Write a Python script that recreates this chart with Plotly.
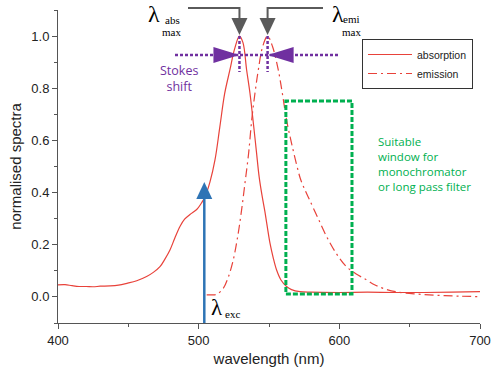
import plotly.graph_objects as go
import numpy as np

# ---------------- data ----------------
abs_wl = [400, 405, 410, 415, 420, 425, 430, 437, 443, 449, 456, 463, 468, 472.5, 476,
          479.6, 483, 486.7, 490, 493.8, 498.6, 502, 504.5, 508, 511.6, 515, 518.5, 522.2,
          525.5, 529, 531.5, 534.1, 536.5, 539, 541, 543, 545, 547, 550.7, 553, 555.4,
          558.5, 562.5, 566, 572, 580, 600, 620, 640, 660, 680, 700]
abs_val = [0.046, 0.047, 0.043, 0.040, 0.040, 0.039, 0.041, 0.042, 0.045, 0.052, 0.062,
           0.078, 0.095, 0.116, 0.145, 0.18, 0.225, 0.27, 0.298, 0.316, 0.335, 0.36, 0.384,
           0.44, 0.525, 0.65, 0.78, 0.87, 0.95, 1.0, 0.975, 0.87, 0.78, 0.66, 0.56, 0.46,
           0.39, 0.33, 0.206, 0.15, 0.103, 0.065, 0.04, 0.028, 0.02, 0.018, 0.017, 0.018,
           0.017, 0.017, 0.018, 0.02]

emi_wl = [505.7, 509, 512.8, 517.5, 521, 524.6, 528, 530.5, 533, 535.5, 537.7, 540, 542.4,
          545.5, 549, 552.5, 556.6, 559.5, 562.5, 566, 569.5, 572.5, 576, 579, 585, 591,
          598, 605, 612, 619.4, 625, 631, 640, 655, 670, 685, 700]
emi_val = [0.008, 0.008, 0.01, 0.033, 0.075, 0.142, 0.24, 0.333, 0.44, 0.55, 0.678, 0.78,
           0.87, 0.96, 1.0, 0.96, 0.87, 0.78, 0.678, 0.59, 0.51, 0.45, 0.405, 0.37, 0.3,
           0.231, 0.165, 0.116, 0.088, 0.065, 0.047, 0.033, 0.02, 0.011, 0.006, 0.003, 0.001]

exc_wl = 504          # excitation wavelength (nm)
window_wl = [562, 609]  # suitable detection window
window_val = [0.0115, 0.751]

x_ticks = [400, 500, 600, 700]
y_ticks = [0.0, 0.2, 0.4, 0.6, 0.8, 1.0]

# ---------------- layout geometry ----------------
W, H = 492, 373
ML, MR, MT, MB = 58, 12, 10, 50
XR = [400, 700]
YR = [-0.1, 1.1]
PW = W - ML - MR
PH = H - MT - MB


def px2p(px):
    return (px - ML) / PW


def py2p(py):
    return (H - MB - py) / PH


def dx2p(wl):
    return (wl - XR[0]) / (XR[1] - XR[0])


def ppx(n):   # pixels -> paper x fraction
    return n / PW


def ppy(n):
    return n / PH


RED = "#E8423A"
GRAY = "#5A5A5A"
PURPLE = "#7030A0"
BLUE = "#2E74B5"
GREEN = "#00B050"

abs_peak = abs_wl[int(np.argmax(abs_val))]
emi_peak = emi_wl[int(np.argmax(emi_val))]

fig = go.Figure()
fig.add_trace(go.Scatter(x=abs_wl, y=abs_val, mode="lines", name="absorption",
                         line=dict(color=RED, width=1.2), line_shape="spline"))
fig.add_trace(go.Scatter(x=emi_wl, y=emi_val, mode="lines", name="emission",
                         line=dict(color=RED, width=1.2, dash="9px,4px,2px,4px"),
                         line_shape="spline"))

shapes = []


def path(points, **kw):
    d = "M " + " L ".join(f"{x:.5f},{y:.5f}" for x, y in points) + (" Z" if kw.pop("close", False) else "")
    s = dict(type="path", path=d, xref="paper", yref="paper", layer="above")
    s.update(kw)
    return s


# grey L-shaped arrows to the maxima
top_y = py2p(8)
head_base = py2p(18)
head_tip = py2p(35)
for peak, start_px in [(abs_peak, 188), (emi_peak, 323)]:
    xp = dx2p(peak)
    shapes.append(path([(px2p(start_px), top_y), (xp, top_y), (xp, head_base)],
                       line=dict(color=GRAY, width=2)))
    shapes.append(path([(xp - ppx(8), head_base), (xp + ppx(8), head_base), (xp, head_tip)],
                       close=True, line=dict(color=GRAY, width=0), fillcolor=GRAY))

# Stokes shift markers
sy = py2p(55)
shapes.append(path([(px2p(175), sy), (px2p(338), sy)],
                   line=dict(color=PURPLE, width=2.5, dash="3px,2px")))
for peak in (abs_peak, emi_peak):
    xp = dx2p(peak)
    shapes.append(path([(xp, py2p(36)), (xp, py2p(72))],
                       line=dict(color=PURPLE, width=2.5, dash="3px,2px")))
xa, xe = dx2p(abs_peak), dx2p(emi_peak)
shapes.append(path([(xa - ppx(26), sy + ppy(8)), (xa - ppx(26), sy - ppy(8)), (xa, sy)],
                   close=True, line=dict(width=0), fillcolor=PURPLE))
shapes.append(path([(xe + ppx(26), sy + ppy(8)), (xe + ppx(26), sy - ppy(8)), (xe, sy)],
                   close=True, line=dict(width=0), fillcolor=PURPLE))

# excitation arrow
ex = dx2p(exc_wl)
shapes.append(path([(ex, 0), (ex, py2p(197))], line=dict(color=BLUE, width=2.5)))
shapes.append(path([(ex - ppx(8), py2p(199)), (ex + ppx(8), py2p(199)), (ex, py2p(182))],
                   close=True, line=dict(width=0), fillcolor=BLUE))

# detection window
shapes.append(dict(type="rect", xref="x", yref="y",
                   x0=window_wl[0], x1=window_wl[1], y0=window_val[0], y1=window_val[1],
                   line=dict(color=GREEN, width=3, dash="5px,2px"), layer="above"))

SERIF = "Liberation Serif, Times New Roman, serif"
SANS = "Open Sans, Noto Sans, sans-serif"
ann = []


def txt(text, px, py, size, color="black", family=SERIF, xanchor="center", **kw):
    a = dict(text=text, x=px2p(px), y=py2p(py), xref="paper", yref="paper",
             showarrow=False, xanchor=xanchor, yanchor="middle",
             font=dict(size=size, color=color, family=family))
    a.update(kw)
    return a


ann.append(txt("λ", 154, 14, 24))
ann.append(txt("abs", 172, 20, 11))
ann.append(txt("max", 171, 32, 11))
ann.append(txt("λ", 338, 14, 24))
ann.append(txt("emi", 351, 19, 11))
ann.append(txt("max", 351, 32, 11))
ann.append(txt("λ", 217, 307, 23))
ann.append(txt("exc", 232, 314, 11))
ann.append(txt("Stokes<br>shift", 179, 79, 12.5, color=PURPLE, family=SANS))
ann.append(txt("Suitable<br>window for<br>monochromator<br>or long pass filter", 376, 164,
               11.5, color=GREEN, family=SANS, xanchor="left", align="left"))

fig.update_layout(
    width=W, height=H, margin=dict(l=ML, r=MR, t=MT, b=MB, autoexpand=False),
    paper_bgcolor="white", plot_bgcolor="white",
    shapes=shapes, annotations=ann,
    font=dict(family="Liberation Sans, Arial, sans-serif", color="#222"),
    legend=dict(x=px2p(362), y=py2p(39), xanchor="left", yanchor="top",
                bordercolor="#333", borderwidth=1, bgcolor="white",
                font=dict(size=10.5, family="Liberation Sans, Arial, sans-serif", color="#222"),
                itemwidth=44, tracegroupgap=0),
    showlegend=True,
)
axis_common = dict(showline=True, linecolor="#555", linewidth=1, ticks="outside",
                   ticklen=5, tickcolor="#555", showgrid=False, zeroline=False,
                   tickfont=dict(size=13, family="Liberation Sans, Arial, sans-serif", color="#222"),
                   mirror=False, automargin=False)
fig.update_xaxes(range=XR, tickvals=x_ticks, ticktext=[str(t) for t in x_ticks],
                 minor=dict(tickvals=[450, 550, 650], ticklen=3, ticks="outside", tickcolor="#555"),
                 title=dict(text="wavelength (nm)", font=dict(size=15), standoff=6),
                 **axis_common)
fig.update_yaxes(range=YR, tickvals=y_ticks, ticktext=[f"{t:.1f}" for t in y_ticks],
                 minor=dict(tickvals=[-0.1, 0.1, 0.3, 0.5, 0.7, 0.9, 1.1], ticklen=3,
                            ticks="outside", tickcolor="#555"),
                 title=dict(text="normalised spectra", font=dict(size=15), standoff=6),
                 **axis_common)

fig.write_html("out.html", config={"displayModeBar": False},
               post_script="document.body.style.margin='0';")
